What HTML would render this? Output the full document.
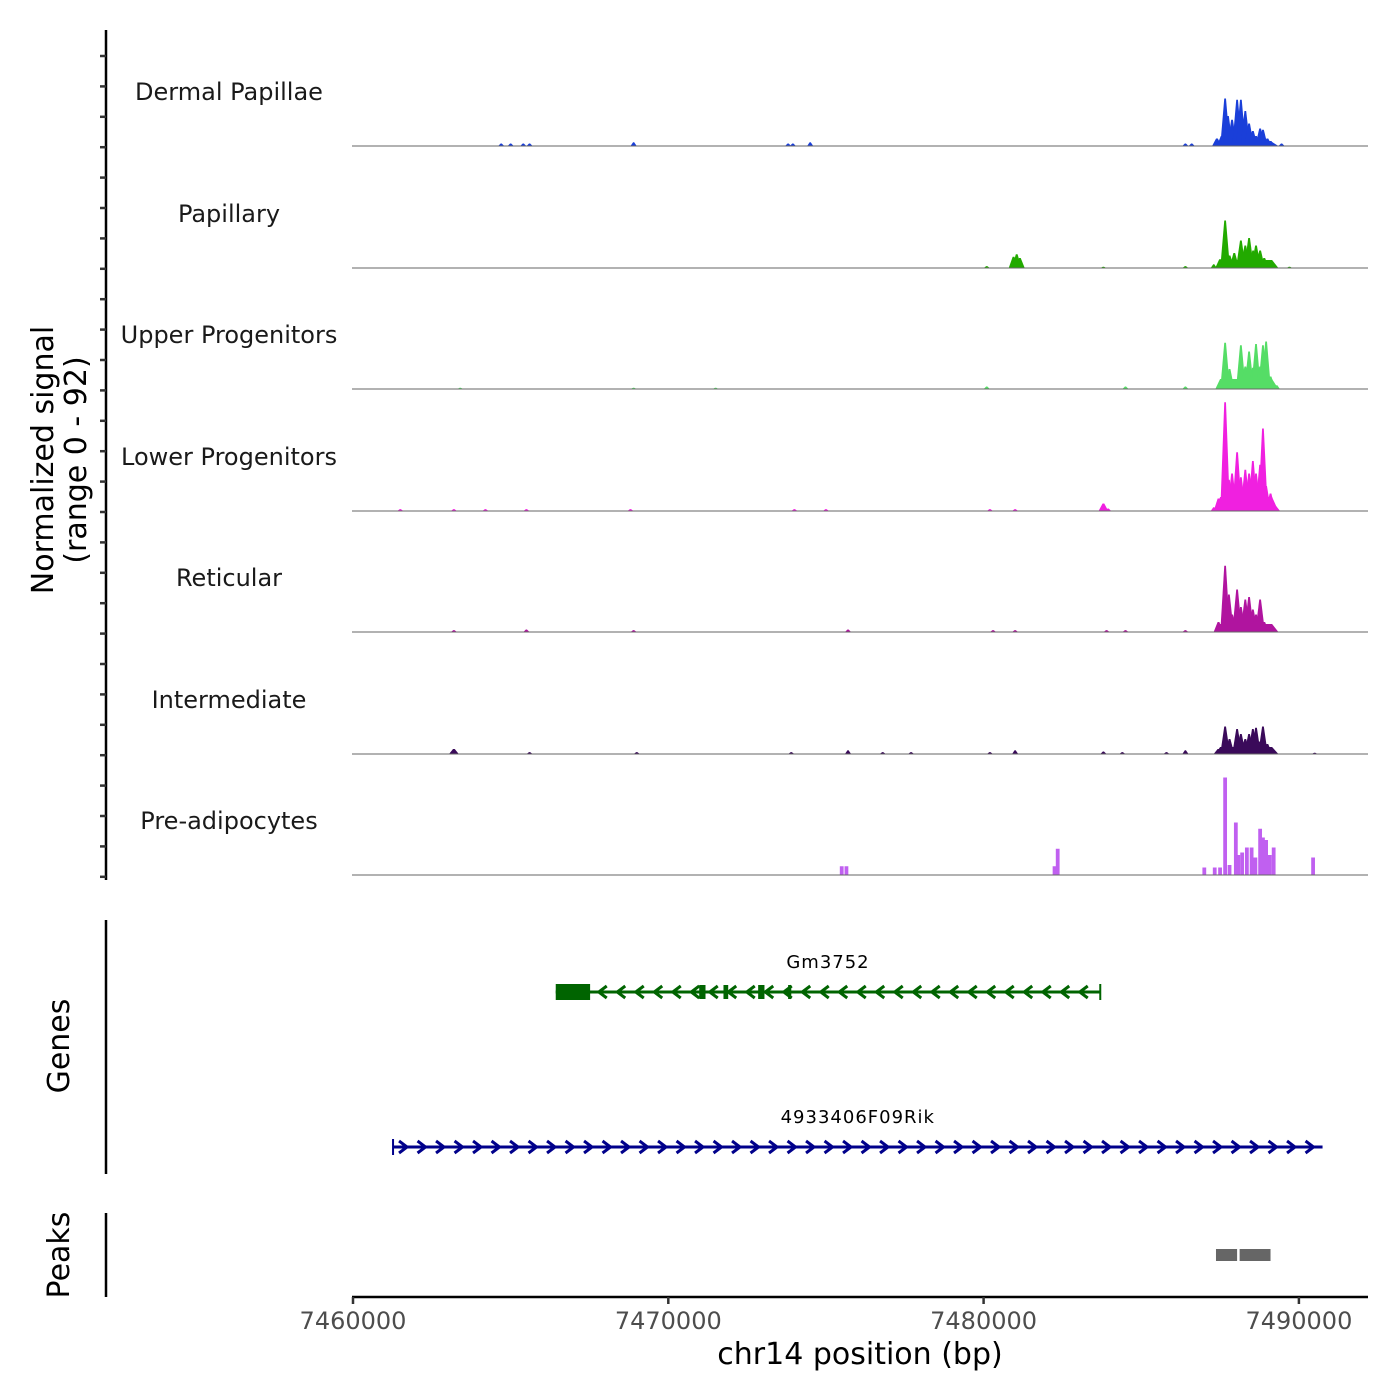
<!DOCTYPE html>
<html><head><meta charset="utf-8">
<style>
html,body{margin:0;padding:0;background:#fff;}
svg{display:block;font-family:"DejaVu Sans","Liberation Sans",sans-serif;}
</style></head>
<body>
<svg id="chart" width="1400" height="1400" viewBox="0 0 1400 1400"></svg>
<script>
// ---- data (positions in kb offset from 7460000, values in normalized signal) ----
const trackNames = ["Dermal Papillae","Papillary","Upper Progenitors","Lower Progenitors","Reticular","Intermediate","Pre-adipocytes"];
const trackColors = ["#1a3fd9","#22aa00","#55dd66","#f020e0","#b0149f","#3a0a5a","#c060f0"];
const dpPos = [27.40,27.55,27.66,27.75,27.88,28.00,28.04,28.16,28.30,28.42,28.54,28.64,28.77,28.86,29.00,29.10,4.7,5.0,5.4,5.6,8.9,13.8,13.95,14.5,26.4,26.6,29.45];
const dpVal = [6,8,38,24,21,12,37,37,28,18,12,8,14,13,6,4,2,2,2,2,3,2,2,3,2,2,2];
const paPos = [27.30,27.50,27.66,27.80,27.95,28.16,28.30,28.42,28.55,28.64,28.77,28.90,29.08,20.95,21.05,21.15,20.1,23.8,26.4,29.7];
const paVal = [3,7,38,10,12,22,18,24,14,18,14,8,5,9,11,8,1.5,1,1.5,1];
const upPos = [27.66,27.80,28.16,28.30,28.42,28.54,28.64,28.77,28.86,28.96,29.10,29.30,20.1,24.5,26.4,3.4,8.9,11.5];
const upVal = [37,16,35,18,30,17,36,18,35,38,10,3,2,2,2,1,1,1];
const loPos = [27.45,27.66,27.78,27.88,28.04,28.16,28.30,28.42,28.54,28.64,28.77,28.86,28.96,29.10,29.25,23.8,23.95,1.5,3.2,4.2,5.5,8.8,14.0,15.0,20.2,21.0,27.3];
const loVal = [10,87,25,30,47,27,33,30,40,30,37,66,20,14,4,6,2,1.5,1.5,1.5,1.5,1.5,1.5,1.5,1.5,1.5,3];
const rePos = [27.45,27.66,27.78,27.88,28.04,28.16,28.30,28.42,28.54,28.64,28.77,28.90,29.05,29.20,3.2,5.5,8.9,15.7,20.3,21.0,23.9,24.5,26.4];
const reVal = [8,53,30,14,34,20,26,28,18,14,26,8,5,3,1.5,2,1.5,2,1.5,1.5,1.5,1.5,1.5];
const inPos = [27.45,27.66,27.80,28.04,28.16,28.30,28.42,28.54,28.64,28.77,28.86,29.00,29.15,3.2,5.6,9.0,13.9,15.7,16.8,17.7,20.2,21.0,23.8,24.4,25.8,26.4,30.5];
const inVal = [4,22,12,20,16,12,16,20,21,10,22,8,3,4,1.5,1.5,1.5,3,1.5,1.5,1.5,3,2,1.5,1.5,3,1];
const prPos = [27.33,27.50,27.66,27.80,28.00,28.08,28.20,28.35,28.50,28.62,28.77,28.86,28.96,29.08,29.20,30.45,22.25,22.35,15.5,15.65,27.00];
const prVal = [6,6,78,8,42,16,18,22,22,14,37,30,28,16,22,14,7,21,7,7,6];
const trackPos = [dpPos,paPos,upPos,loPos,rePos,inPos,prPos];
const trackVal = [dpVal,paVal,upVal,loVal,reVal,inVal,prVal];
const xTicks = [7460000,7470000,7480000,7490000];
const xTickLabels = ["7460000","7470000","7480000","7490000"];
const gene1Name = "Gm3752", gene1Start = 6.43, gene1End = 23.7;
const gene1Exons = [[6.43,7.52],[10.98,11.18],[11.75,11.9],[12.85,13.05],[13.8,13.9]];
const gene2Name = "4933406F09Rik", gene2Start = 1.27, gene2End = 30.75;
const peakStarts = [27.37,28.12];
const peakEnds = [28.04,29.10];

// ---- scales ----
const X0 = 353, PXKB = 31.53;
const x = kb => X0 + kb*PXKB;
const baselines = [146,268,389,511,632,754,875];
const ySig = v => v*(115/92);
const svg = document.getElementById('chart');
const NS = "http://www.w3.org/2000/svg";
function mk(tag, attrs, parent){const e=document.createElementNS(NS,tag);for(const k in attrs)e.setAttribute(k,attrs[k]);(parent||svg).appendChild(e);return e;}

// left axis
const la = mk('line',{x1:106,y1:30,x2:106,y2:880,stroke:'#000','stroke-width':2.5});


for(let k=0;k<28;k++){
  const yy = 56 + k*30.4;
  const t = mk('line',{x1:100,y1:yy,x2:106,y2:yy,stroke:'#333','stroke-width':2.5});
  
  
}
// y titles
const yt = mk('text',{x:0,y:0,'font-size':30,'text-anchor':'middle',fill:'#000',transform:'translate(53,460) rotate(-90)'});
yt.textContent='Normalized signal';


const yt2 = mk('text',{x:0,y:0,'font-size':30,'text-anchor':'middle',fill:'#000',transform:'translate(86,460) rotate(-90)'});
yt2.textContent='(range 0 - 92)';



// tracks
trackNames.forEach((name,i)=>{
  const b = baselines[i];
  const g = mk('g',{});
  
  
  const lab = mk('text',{x:229,y:b-46,'font-size':24,'text-anchor':'middle',fill:'#1a1a1a'},g);
  lab.textContent = name;
  
  
  const pos = trackPos[i], val = trackVal[i];
  const hw = (i===6)?0.06:0.11;
  pos.forEach((p,j)=>{
    const h = ySig(val[j]);
    const w = (val[j]<4)?0.07:hw;
    const pts = i===6 ? `${x(p-w)},${b} ${x(p-w)},${b-h} ${x(p+w)},${b-h} ${x(p+w)},${b}`
                      : `${x(p-w*1.4)},${b} ${x(p-w*0.25)},${b-h} ${x(p+w*0.25)},${b-h} ${x(p+w*1.4)},${b}`;
    const pk = mk('polygon',{points:pts,fill:trackColors[i]},g);
    
    
  });
  if(i<6){
    const fh = [4,8,10,14,8,7][i];
    const fl = mk('polygon',{points:`${x(27.35)},${b} ${x(27.5)},${b-fh} ${x(29.15)},${b-fh} ${x(29.35)},${b}`,fill:trackColors[i]},g);
    
    
  }
  const bl = mk('line',{x1:352,y1:b,x2:1368,y2:b,stroke:'#666','stroke-width':1},g);
  
  
});

// genes axis
const ga = mk('line',{x1:106,y1:920,x2:106,y2:1174,stroke:'#000','stroke-width':2.5});


const gt = mk('text',{x:0,y:0,'font-size':30,'text-anchor':'middle',fill:'#000',transform:'translate(69,1046) rotate(-90)'});
gt.textContent='Genes';



function gene(start,end,yy,color,dir,name,exons,nm){
  const g = mk('g',{});
  
  
  mk('line',{x1:x(start),y1:yy,x2:x(end),y2:yy,stroke:color,'stroke-width':3},g);
  mk('line',{x1:x(dir<0?end:start),y1:yy-8,x2:x(dir<0?end:start),y2:yy+8,stroke:color,'stroke-width':2},g);
  for(let px=x(start)+10; px<x(end)-4; px+=18.5){
    mk('polyline',{points:`${px-4*dir},${yy-6} ${px+4*dir},${yy} ${px-4*dir},${yy+6}`,fill:'none',stroke:color,'stroke-width':3},g);
  }
  exons.forEach(e=>{
    const big = (e[1]-e[0])>0.5;
    mk('rect',{x:x(e[0]),y:yy-(big?8:7),width:Math.max(3,x(e[1])-x(e[0])),height:big?16:14,fill:color},g);
  });
  const t = mk('text',{x:(x(start)+x(end))/2,y:yy-24,'font-size':18,'text-anchor':'middle',fill:'#000','letter-spacing':'1'},g);
  t.textContent=name;
}
gene(gene1Start,gene1End,992,'#006400',-1,gene1Name,gene1Exons,'gene-gm3752');
gene(gene2Start,gene2End,1147,'#00008b',1,gene2Name,[],'gene-4933406f09rik');

// peaks
const pa = mk('line',{x1:106,y1:1213,x2:106,y2:1297,stroke:'#000','stroke-width':2.5});


const pt = mk('text',{x:0,y:0,'font-size':30,'text-anchor':'middle',fill:'#000',transform:'translate(69,1255) rotate(-90)'});
pt.textContent='Peaks';


peakStarts.forEach((s,i)=>{
  const r = mk('rect',{x:x(s),y:1249,width:x(peakEnds[i])-x(s),height:12,fill:'#666'});
  
  
});

// x axis
const xa = mk('line',{x1:352,y1:1297,x2:1368,y2:1297,stroke:'#000','stroke-width':2.5});


xTicks.forEach((v,i)=>{
  const px = x((v-7460000)/1000);
  const t = mk('line',{x1:px,y1:1297,x2:px,y2:1304,stroke:'#333','stroke-width':2.5});
  
  
  const l = mk('text',{x:px,y:1329,'font-size':24,'text-anchor':'middle',fill:'#4d4d4d'});
  l.textContent = xTickLabels[i];
  
  
});
const xt = mk('text',{x:860,y:1364,'font-size':30,'text-anchor':'middle',fill:'#000'});
xt.textContent='chr14 position (bp)';


</script>
</body></html>
